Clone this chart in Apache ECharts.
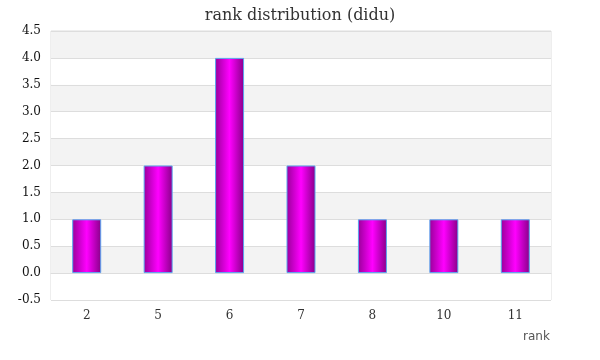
<!DOCTYPE html>
<html><head><meta charset="utf-8">
<script src="https://cdn.jsdelivr.net/npm/echarts@6/dist/echarts.min.js"></script>
<style>html,body{margin:0;padding:0;background:#fff}#c{width:600px;height:360px}</style>
</head><body><div id="c"></div>
<script>
const categories = ['2', '5', '6', '7', '8', '10', '11'];
const counts = [1, 2, 4, 2, 1, 1, 1];
const chartTitle = 'rank distribution (didu)';
const xName = 'rank';

const serif = "Georgia, 'DejaVu Serif', 'Liberation Serif', serif";
const chart = echarts.init(document.getElementById('c'));
chart.setOption({
  animation: false,
  backgroundColor: '#fff',
  title: { text: chartTitle, left: 'center', top: 3, textStyle: { fontFamily: serif, fontSize: 16, fontWeight: 'normal', color: '#333' } },
  grid: { left: 51, right: 49, top: 31, bottom: 60, show: true, borderColor: '#dddddd', borderWidth: 1, backgroundColor: 'transparent' },
  xAxis: {
    type: 'category', data: categories, name: xName, nameLocation: 'end',
    nameGap: 0,
    nameTextStyle: { fontFamily: 'DejaVu Sans, sans-serif', fontSize: 12, color: '#555', padding: [58, 0, 0, -28], verticalAlign: 'top', align: 'left' },
    axisLine: { show: true, lineStyle: { color: '#dddddd' } },
    axisTick: { show: false },
    axisLabel: { fontFamily: serif, fontSize: 12, color: '#333', margin: 10 }
  },
  yAxis: {
    type: 'value', min: -0.5, max: 4.5, interval: 0.5,
    axisLine: { show: false }, axisTick: { show: false },
    axisLabel: { fontFamily: serif, fontSize: 12, color: '#111', margin: 10, formatter: v => v.toFixed(1) },
    splitLine: { show: true, lineStyle: { color: '#dddddd' } },
    splitArea: { show: true, areaStyle: { color: ['#ffffff', '#f3f3f3'] } }
  },
  series: [{
    type: 'bar', data: counts, barWidth: 29,
    itemStyle: {
      borderColor: '#5aa6ee', borderWidth: 1,
      color: new echarts.graphic.LinearGradient(0, 0, 1, 0, [
        { offset: 0, color: '#990099' },
        { offset: 0.5, color: '#ff00ff' },
        { offset: 1, color: '#880088' }
      ])
    }
  }]
});
</script></body></html>
